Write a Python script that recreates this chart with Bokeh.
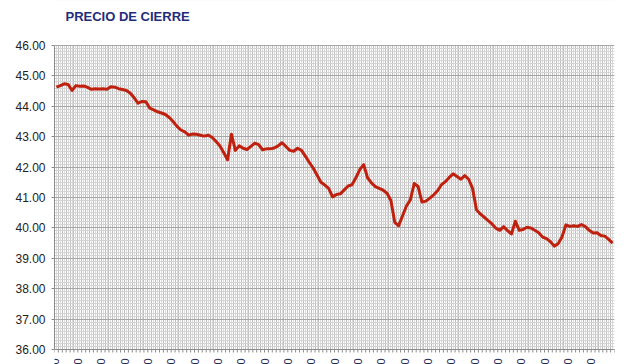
import math
from bokeh.plotting import figure
from bokeh.models import Range1d, FixedTicker, NumeralTickFormatter
from bokeh.core.properties import value
from bokeh.embed import file_html
from bokeh.resources import INLINE

title_text = "PRECIO DE CIERRE"

precio = [
    44.63, 44.68, 44.74, 44.72, 44.52, 44.68, 44.66, 44.67, 44.62, 44.56,
    44.58, 44.57, 44.58, 44.56, 44.64, 44.63, 44.58, 44.55, 44.52, 44.43,
    44.28, 44.10, 44.16, 44.15, 43.94, 43.88, 43.82, 43.78, 43.73, 43.63,
    43.50, 43.34, 43.22, 43.16, 43.05, 43.09, 43.08, 43.05, 43.02, 43.05,
    42.98, 42.85, 42.70, 42.48, 42.24, 43.08, 42.55, 42.70, 42.62, 42.58,
    42.68, 42.79, 42.74, 42.57, 42.60, 42.60, 42.63, 42.70, 42.80, 42.68,
    42.55, 42.52, 42.62, 42.55, 42.36, 42.16, 41.97, 41.74, 41.50, 41.41,
    41.30, 41.02, 41.10, 41.12, 41.25, 41.38, 41.42, 41.65, 41.92, 42.08,
    41.65, 41.48, 41.36, 41.30, 41.24, 41.14, 40.90, 40.18, 40.07, 40.40,
    40.72, 40.92, 41.46, 41.36, 40.85, 40.88, 40.98, 41.09, 41.22, 41.42,
    41.52, 41.66, 41.78, 41.69, 41.60, 41.72, 41.60, 41.30, 40.60, 40.46,
    40.35, 40.24, 40.13, 39.99, 39.92, 40.04, 39.91, 39.80, 40.22, 39.92,
    39.95, 40.02, 40.00, 39.92, 39.84, 39.70, 39.65, 39.55, 39.40, 39.48,
    39.70, 40.10, 40.05, 40.07, 40.05, 40.11, 40.04, 39.92, 39.83, 39.84,
    39.75, 39.73, 39.62, 39.50,
]

fechas = [
    "04/01/2010", "12/01/2010", "20/01/2010", "28/01/2010", "05/02/2010",
    "15/02/2010", "23/02/2010", "03/03/2010", "11/03/2010", "19/03/2010",
    "29/03/2010", "08/04/2010", "16/04/2010", "26/04/2010", "04/05/2010",
    "12/05/2010", "20/05/2010", "28/05/2010", "07/06/2010", "15/06/2010",
    "23/06/2010", "01/07/2010", "09/07/2010", "19/07/2010",
]

y_ticks = [36, 37, 38, 39, 40, 41, 42, 43, 44, 45, 46]
y_min, y_max = 36, 46

n = len(precio)
xs = [i + 0.5 for i in range(n)]

# frame fills the canvas height; the value axis spans 45 px .. 349 px
TOP, BOTTOM, H = 45, 15, 364
px_per_unit = (H - TOP - BOTTOM) / (y_max - y_min)
y_start = y_min - BOTTOM / px_per_unit
y_end = y_max + TOP / px_per_unit
px_per_cat = (640 - 54 - 26) / n

p = figure(width=640, height=H, output_backend="svg", toolbar_location=None,
           x_range=Range1d(0, n), y_range=Range1d(y_start, y_end),
           min_border_left=54, min_border_right=26, min_border_top=0,
           min_border_bottom=0)
p.outline_line_color = None
p.background_fill_color = "white"
p.border_fill_color = "white"

# y axis
p.yaxis.ticker = FixedTicker(ticks=y_ticks,
                             minor_ticks=[y_min + k * 0.1 for k in range(101)])
p.yaxis.bounds = (y_min, y_max)
p.yaxis.formatter = NumeralTickFormatter(format="0.00")
p.yaxis.major_label_text_font = "Liberation Sans"
p.yaxis.major_label_text_font_size = "12px"
p.yaxis.major_label_text_color = "#222222"
p.yaxis.axis_line_color = "#8c8c8c"
p.yaxis.major_tick_line_color = "#8c8c8c"
p.yaxis.major_tick_out = 3
p.yaxis.major_tick_in = 0
p.yaxis.minor_tick_line_color = None
p.yaxis.major_label_standoff = 5

p.xaxis.visible = False

# grids
p.ygrid.grid_line_color = "#a6a6a6"
p.ygrid.minor_grid_line_color = "#d4d4d4"
p.xgrid.ticker = FixedTicker(ticks=list(range(n + 1)),
                             minor_ticks=[k + 0.5 for k in range(n)])
p.xgrid.grid_line_color = "#bcbcbc"
p.xgrid.minor_grid_line_color = "#dcdcdc"

# white bands outside the value range (hide grid there)
p.quad(left=[0, 0], right=[n, n], bottom=[y_start - 1, y_max + 0.02],
       top=[y_min, y_end + 1], fill_color="white", line_color=None)

# category axis line and tick marks
tick_len = 3 / px_per_unit
p.segment(x0=[0], y0=[y_min], x1=[n], y1=[y_min], line_color="#8c8c8c", line_width=1)
p.segment(x0=list(range(n + 1)), y0=[y_min] * (n + 1),
          x1=list(range(n + 1)), y1=[y_min - tick_len] * (n + 1),
          line_color="#8c8c8c", line_width=1)

p.line(xs, precio, line_color="#c0210f", line_width=3, line_join="round")

# date labels (rotated, cut by the bottom edge as in the original)
p.text(x=[k * 6 for k in range(len(fechas))], y=[y_min - 9 / px_per_unit] * len(fechas),
       text=fechas, angle=math.pi / 2, text_align="right", text_baseline="middle",
       text_font_size="11px", text_color="#1f2a55", text_font=value("Liberation Sans"))

# chart title
p.text(x=[11 / px_per_cat], y=[y_max + (TOP - 16) / px_per_unit], text=[title_text],
       text_align="left", text_baseline="middle", text_font_size="13px",
       text_font_style="bold", text_color="#1f2d7a", text_font=value("Liberation Sans"))

open("out.html", "w").write(file_html(p, INLINE))
